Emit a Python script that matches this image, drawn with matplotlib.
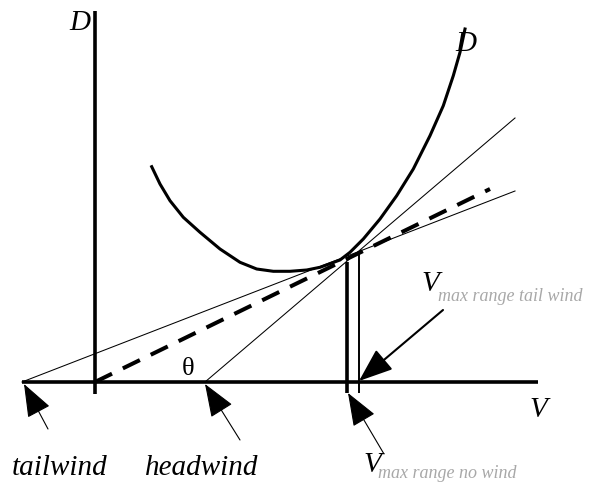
import matplotlib
matplotlib.use("Agg")
import matplotlib.pyplot as plt
from matplotlib.patches import FancyArrowPatch

# Drag curve D(V), sampled points (V, D)
curve_v = [56.7, 65, 75, 88.3, 105, 125, 145, 161.7, 178.3, 195, 211.7, 225, 245, 255,
           268.3, 285, 301.7, 318.3, 335, 348.3, 358.3, 365, 370]
curve_d = [215.3, 198, 181.3, 164.7, 149.7, 133, 119.7, 113, 110.7, 110.7, 112, 114.7, 122,
           129.7, 143, 163, 186.3, 213, 246.3, 276.3, 306.3, 329.7, 353]

# Lines from the wind points on the V axis through the curve
tail_line_v = [-73, 420]
tail_line_d = [0, 191]
still_line_v = [0, 395]
still_line_d = [0, 193]
head_line_v = [110, 420]
head_line_d = [0, 264]

# Speeds for best range (vertical markers)
v_no_wind = 252
v_no_wind_top = 120
v_tail_wind = 264
v_tail_wind_top = 128

fig = plt.figure(figsize=(5.89, 4.85), dpi=100)
ax = fig.add_axes([0, 0, 1, 1])
ax.set_xlim(-95, 494)
ax.set_ylim(-102, 383)
ax.axis("off")

serif = "Liberation Serif"

# axes
ax.plot([0, 0], [-12, 371], color="black", lw=2.6, solid_capstyle="butt")
ax.plot([-73, 443], [0, 0], color="black", lw=2.6, solid_capstyle="butt")

# drag curve
ax.plot(curve_v, curve_d, color="black", lw=2.2, solid_joinstyle="round")

# lines
ax.plot(tail_line_v, tail_line_d, color="black", lw=0.75)
ax.plot(head_line_v, head_line_d, color="black", lw=0.75)
dash, = ax.plot(still_line_v, still_line_d, color="black", lw=2.9, solid_capstyle="butt")
dash.set_dashes((4.7, 3.0))
dash.set_dash_capstyle("butt")

# vertical markers
ax.plot([v_no_wind, v_no_wind], [-11, v_no_wind_top], color="black", lw=2.6, solid_capstyle="butt")
ax.plot([v_tail_wind, v_tail_wind], [-11, v_tail_wind_top], color="black", lw=1.4, solid_capstyle="butt")


def arrow(start, end, lw):
    a = FancyArrowPatch(start, end, arrowstyle="-|>,head_length=21,head_width=8",
                        mutation_scale=1, color="black", lw=lw, shrinkA=0, shrinkB=0)
    ax.add_patch(a)


arrow((-47, -47), (-71, -2), 0.8)
arrow((145, -58), (110, -2), 0.8)
arrow((348, 72), (264, 1), 1.5)
arrow((289, -72), (253, -11), 0.8)

# labels
ax.text(-15, 360, "D", family=serif, style="italic", fontsize=21, ha="center", va="center")
ax.text(371, 339, "D", family=serif, style="italic", fontsize=21, ha="center", va="center")
ax.text(93, 14, "θ", family=serif, fontsize=19, ha="center", va="center")
ax.text(443, -27, "V", family=serif, style="italic", fontsize=21, ha="center", va="center")
ax.text(-83, -92, "tailwind", family=serif, style="italic", fontsize=21, ha="left", va="baseline")
ax.text(50, -92, "headwind", family=serif, style="italic", fontsize=21, ha="left", va="baseline")

ax.text(326, 92, "V", family=serif, style="italic", fontsize=21, ha="left", va="baseline")
ax.text(343, 82, "max range tail wind", family=serif, style="italic", fontsize=13,
        color="#a8a8a8", ha="left", va="baseline")
ax.text(268, -89, "V", family=serif, style="italic", fontsize=21, ha="left", va="baseline")
ax.text(283, -95, "max range no wind", family=serif, style="italic", fontsize=13,
        color="#a8a8a8", ha="left", va="baseline")

fig.savefig("out.png", dpi=100)
